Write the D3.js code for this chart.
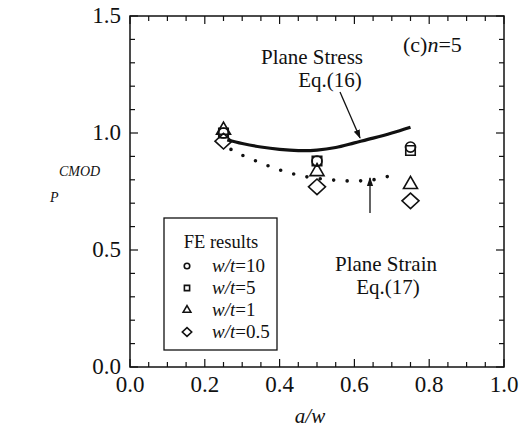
<!DOCTYPE html>
<html><head><meta charset="utf-8">
<script src="https://cdn.jsdelivr.net/npm/d3@7"></script>
<style>body{margin:0;background:#fff}svg{display:block}text{font-family:"Liberation Serif","Times New Roman",serif;fill:#111}</style>
</head><body><svg id="c" width="522" height="442"></svg>
<script>
const xTicks=[0.0,0.2,0.4,0.6,0.8,1.0];
const yTicks=[0.0,0.5,1.0,1.5];
const aw=[0.25,0.5,0.75];
const wt10=[1.0,0.88,0.94];
const wt5=[1.0,0.88,0.925];
const wt1=[1.012,0.835,0.78];
const wt05=[0.965,0.77,0.71];
const stressX=[0.26,0.3,0.35,0.4,0.45,0.5,0.55,0.6,0.65,0.7,0.75];
const stressY=[0.97,0.955,0.94,0.93,0.925,0.927,0.938,0.958,0.978,1.0,1.025];
const strainX=[0.27,0.3,0.35,0.4,0.45,0.5,0.55,0.6,0.65,0.7,0.72];
const strainY=[0.93,0.905,0.872,0.842,0.82,0.806,0.798,0.795,0.8,0.82,0.835];

const svg=d3.select("#c");
const L=130,R=504,T=16,B=367;
const x=d3.scaleLinear().domain([0,1]).range([L,R]);
const y=d3.scaleLinear().domain([0,1.5]).range([B,T]);

svg.append("rect").attr("x",L).attr("y",T).attr("width",R-L).attr("height",B-T).attr("fill","none").attr("stroke","#111").attr("stroke-width",1.5);

const g=svg.append("g").attr("stroke","#111").attr("stroke-width",1.2);
d3.range(0,21).forEach(i=>{const v=i*0.05;const len=(i%4===0)?8:5;
  g.append("line").attr("x1",x(v)).attr("x2",x(v)).attr("y1",B).attr("y2",B-len);
  g.append("line").attr("x1",x(v)).attr("x2",x(v)).attr("y1",T).attr("y2",T+len);});
d3.range(0,16).forEach(i=>{const v=i*0.1;const len=(i%5===0)?8:5;
  g.append("line").attr("y1",y(v)).attr("y2",y(v)).attr("x1",L).attr("x2",L+len);
  g.append("line").attr("y1",y(v)).attr("y2",y(v)).attr("x1",R).attr("x2",R-len);});

svg.selectAll(".xt").data(xTicks).enter().append("text").attr("x",d=>x(d)).attr("y",392).attr("text-anchor","middle").attr("font-size",23).text(d=>d.toFixed(1));
svg.selectAll(".yt").data(yTicks).enter().append("text").attr("x",121).attr("y",d=>y(d)+7).attr("text-anchor","end").attr("font-size",23).text(d=>d.toFixed(1));

svg.append("text").attr("x",310).attr("y",423).attr("text-anchor","middle").attr("font-size",21).attr("font-style","italic").text("a/w");
svg.append("text").attr("x",59).attr("y",176).attr("font-size",14).attr("font-style","italic").text("CMOD");
svg.append("text").attr("x",50).attr("y",202).attr("font-size",14).attr("font-style","italic").text("P");

const line=d3.line().x(d=>x(d[0])).y(d=>y(d[1])).curve(d3.curveCatmullRom);
svg.append("path").attr("d",line(d3.zip(stressX,stressY))).attr("fill","none").attr("stroke","#111").attr("stroke-width",3.2);
svg.append("path").attr("d",line(d3.zip(strainX,strainY))).attr("fill","none").attr("stroke","#111").attr("stroke-width",3.6).attr("stroke-linecap","round").attr("stroke-dasharray","0 13.5");

const sym={c:d3.symbolCircle,s:d3.symbolSquare,t:d3.symbolTriangle};
function marker(sel,type,cx,cy,scale){
  const sizes={c:80,s:90,t:85};
  let p;
  if(type==='d'){const hw=8.5*scale,hh=7.8*scale;p=`M0,${-hh}L${hw},0L0,${hh}L${-hw},0Z`;}
  else p=d3.symbol(sym[type],sizes[type]*scale*scale)();
  sel.append("path").attr("d",p).attr("transform",`translate(${cx},${cy})`).attr("fill","none").attr("stroke","#111").attr("stroke-width",1.6);
}
const series=[["c",wt10],["s",wt5],["t",wt1],["d",wt05]];
series.forEach(([t,vals])=>aw.forEach((a,i)=>marker(svg,t,x(a),y(vals[i]),1)));

svg.append("text").attr("x",312).attr("y",64).attr("text-anchor","middle").attr("font-size",21).text("Plane Stress");
svg.append("text").attr("x",330).attr("y",87).attr("text-anchor","middle").attr("font-size",21).text("Eq.(16)");
const cn=svg.append("text").attr("x",403).attr("y",52).attr("font-size",22);
cn.append("tspan").text("(c)");cn.append("tspan").attr("font-style","italic").text("n");cn.append("tspan").text("=5");
svg.append("text").attr("x",386).attr("y",271).attr("text-anchor","middle").attr("font-size",21).text("Plane Strain");
svg.append("text").attr("x",388).attr("y",294).attr("text-anchor","middle").attr("font-size",21).text("Eq.(17)");

svg.append("defs").append("marker").attr("id","ah").attr("viewBox","0 0 10 10").attr("refX",9).attr("refY",5).attr("markerWidth",7).attr("markerHeight",7).attr("orient","auto-start-reverse").append("path").attr("d","M0,1.5L10,5L0,8.5Z").attr("fill","#111");
svg.append("line").attr("x1",340).attr("y1",92).attr("x2",360).attr("y2",138).attr("stroke","#111").attr("stroke-width",1.3).attr("marker-end","url(#ah)");
svg.append("line").attr("x1",370).attr("y1",213).attr("x2",370).attr("y2",178).attr("stroke","#111").attr("stroke-width",1.3).attr("marker-end","url(#ah)");

svg.append("rect").attr("x",164).attr("y",218).attr("width",113).attr("height",132).attr("fill","#fff").attr("stroke","#111").attr("stroke-width",1.3);
svg.append("text").attr("x",221).attr("y",248).attr("text-anchor","middle").attr("font-size",18.5).text("FE results");
const labs=["10","5","1","0.5"];
series.forEach(([t],i)=>{const cy=266+i*22;
  marker(svg,t,187,cy,0.55);
  const tx=svg.append("text").attr("x",212).attr("y",cy+6).attr("font-size",19);
  tx.append("tspan").attr("font-style","italic").text("w/t");tx.append("tspan").text("="+labs[i]);});
</script></body></html>
